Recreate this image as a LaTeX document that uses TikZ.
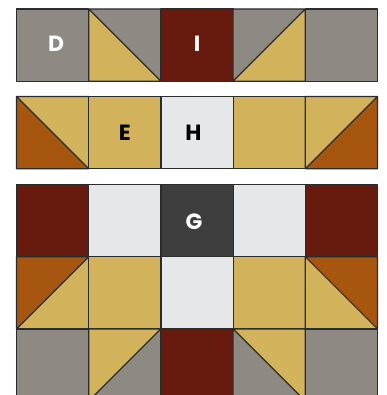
\documentclass[tikz,border=0pt]{standalone}
\usepackage{fontspec}
\setmainfont{Poppins}
\usepackage{tikz}
\usetikzlibrary{positioning}

\definecolor{stone}{HTML}{8E8983}
\definecolor{straw}{HTML}{D2B35B}
\definecolor{oxblood}{HTML}{671B0E}
\definecolor{rust}{HTML}{A6560F}
\definecolor{mist}{HTML}{E6E7E9}
\definecolor{charcoal}{HTML}{3E3E3E}
\definecolor{seam}{HTML}{2B2B2B}

\def\sq{72.2}
% plain patch: left, top, colour
\newcommand{\plain}[3]{\filldraw[patch,fill=#3] (#1,#2) rectangle ++(\sq,\sq);}
% diagonal top-left to bottom-right: #3 lower-left, #4 upper-right
\newcommand{\halfdown}[4]{%
  \fill[#3] (#1,#2) -- ++(0,\sq) -- ++(\sq,0) -- cycle;
  \fill[#4] (#1,#2) -- ++(\sq,0) -- ++(0,\sq) -- cycle;
  \draw[patch] (#1,#2) rectangle ++(\sq,\sq) (#1,#2) -- ++(\sq,\sq);}
% diagonal bottom-left to top-right: #3 upper-left, #4 lower-right
\newcommand{\halfup}[4]{%
  \fill[#3] (#1,#2) -- ++(\sq,0) -- ++(-\sq,\sq) -- cycle;
  \fill[#4] (#1,#2) ++(\sq,0) -- ++(0,\sq) -- ++(-\sq,0) -- cycle;
  \draw[patch] (#1,#2) rectangle ++(\sq,\sq) (#1,#2) ++(0,\sq) -- ++(\sq,-\sq);}

\begin{document}
\begin{tikzpicture}[x=1pt,y=-1pt]
  \tikzstyle{patch}=[draw=seam,line width=1.2pt,line join=round]
  \tikzstyle{letter}=[font=\bfseries\fontsize{22}{22}\selectfont,inner sep=0pt]
  \useasboundingbox (0,0) rectangle (386,395);
  \clip (0,0) rectangle (386,395);
  \def\ca{16.5}\def\cb{88.7}\def\cc{160.9}\def\cd{233.1}\def\ce{305.3}

  % top strip
  \plain{\ca}{9}{stone}
  \halfdown{\cb}{9}{straw}{stone}
  \plain{\cc}{9}{oxblood}
  \halfup{\cd}{9}{stone}{straw}
  \plain{\ce}{9}{stone}

  % middle strip
  \halfdown{\ca}{96.5}{rust}{straw}
  \plain{\cb}{96.5}{straw}
  \plain{\cc}{96.5}{mist}
  \plain{\cd}{96.5}{straw}
  \halfup{\ce}{96.5}{straw}{rust}

  % lower block
  \plain{\ca}{184.5}{oxblood}
  \plain{\cb}{184.5}{mist}
  \plain{\cc}{184.5}{charcoal}
  \plain{\cd}{184.5}{mist}
  \plain{\ce}{184.5}{oxblood}
  \halfup{\ca}{256.7}{rust}{straw}
  \plain{\cb}{256.7}{straw}
  \plain{\cc}{256.7}{mist}
  \plain{\cd}{256.7}{straw}
  \halfdown{\ce}{256.7}{straw}{rust}
  \plain{\ca}{328.9}{stone}
  \halfup{\cb}{328.9}{straw}{stone}
  \plain{\cc}{328.9}{oxblood}
  \halfdown{\cd}{328.9}{stone}{straw}
  \plain{\ce}{328.9}{stone}

  \node[letter,text=white] (lblD) at (56,44) {D};
  \node[letter,text=white] (lblI) at (197,44) {I};
  \node[letter,text=black] (lblE) at (124.7,132.5) {E};
  \node[letter,text=black] (lblH) at (193.3,132.5) {H};
  \node[letter,text=white] (lblG) at (194,222) {G};
\end{tikzpicture}
\end{document}
